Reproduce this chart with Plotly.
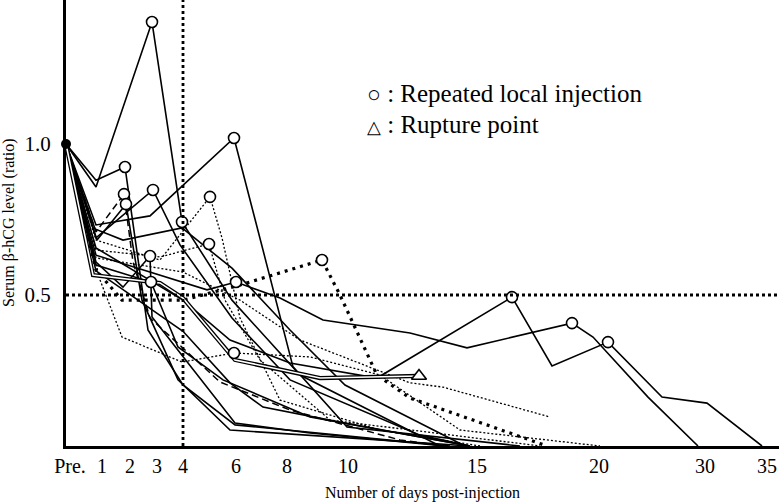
import plotly.graph_objects as go

# ---- axis (non-linear day scale: positions of the labelled days) ----
TICK_POS = [70, 102, 130, 157, 183, 236, 287, 348, 477, 599, 705, 767]
TICK_TEXT = ["Pre.", "1", "2", "3", "4", "6", "8", "10", "15", "20", "30", "35"]
Y_TICKS = [0.5, 1.0]
Y_TICK_TEXT = ["0.5", "1.0"]
REF_DAY4_POS = 183
REF_RATIO = 0.5

# ---- patient series (x = position on the day axis, y = hCG ratio) ----
S1_X = [66, 96, 152, 182, 232, 300, 440]
S1_Y = [1.0, 0.858, 1.404, 0.742, 0.483, 0.235, 0.0]
S1_INJ = [2, 3]

S2_X = [66, 96, 125, 148, 183, 235, 450]
S2_Y = [1.0, 0.88, 0.924, 0.384, 0.202, 0.07, 0.0]
S2_INJ = [2]

S3_X = [66, 96, 150, 234, 263, 293, 347, 520]
S3_Y = [1.0, 0.732, 0.762, 1.02, 0.649, 0.262, 0.063, 0.0]
S3_INJ = [3]

S4_X = [66, 96, 124, 133, 150, 220, 290, 400, 445]
S4_Y = [1.0, 0.709, 0.834, 0.609, 0.424, 0.212, 0.119, 0.02, 0.0]
S4_INJ = [2]

S5_X = [66, 97, 126, 142, 178, 230, 470]
S5_Y = [1.0, 0.682, 0.801, 0.483, 0.219, 0.053, 0.0]
S5_INJ = [2]

S6_X = [66, 96, 153, 180, 232, 290, 420, 470]
S6_Y = [1.0, 0.689, 0.848, 0.666, 0.424, 0.219, 0.036, 0.0]
S6_INJ = [2]

S7_X = [66, 95, 123, 182, 232, 290, 345, 465]
S7_Y = [1.0, 0.719, 0.682, 0.722, 0.589, 0.384, 0.202, 0.0]
S7_INJ = []

S8_X = [66, 96, 207, 236, 280, 323, 410, 467, 572, 593, 648, 698]
S8_Y = [1.0, 0.632, 0.517, 0.543, 0.49, 0.417, 0.374, 0.325, 0.407, 0.361, 0.162, 0.0]
S8_INJ = [3, 8]

S9_X = [66, 96, 183, 230, 290, 377, 512, 552, 608, 662, 707, 762]
S9_Y = [1.0, 0.656, 0.483, 0.351, 0.275, 0.225, 0.493, 0.265, 0.344, 0.162, 0.142, 0.0]
S9_INJ = [6, 8]

S10_X = [66, 93, 160, 183, 235, 320, 419]          # ruptured case
S10_Y = [1.0, 0.566, 0.54, 0.49, 0.285, 0.225, 0.232]

S11_X = [66, 96, 122, 183, 240, 322, 340, 377, 410, 547]
S11_Y = [1.0, 0.583, 0.483, 0.483, 0.533, 0.616, 0.50, 0.235, 0.159, 0.0]
S11_INJ = [5]

S12_X = [66, 96, 183, 240, 300, 410, 443, 550]
S12_Y = [1.0, 0.623, 0.576, 0.483, 0.351, 0.209, 0.195, 0.096]
S12_INJ = []

S13_X = [66, 100, 122, 182, 234, 310, 380, 460, 600]
S13_Y = [1.0, 0.55, 0.361, 0.278, 0.308, 0.295, 0.235, 0.053, 0.0]
S13_INJ = [4]

S14_X = [66, 96, 160, 210, 222, 240, 280, 380, 480]
S14_Y = [1.0, 0.682, 0.616, 0.825, 0.689, 0.424, 0.152, 0.053, 0.0]
S14_INJ = [3]

S15_X = [66, 96, 160, 209, 225, 260, 330, 540]
S15_Y = [1.0, 0.649, 0.626, 0.669, 0.483, 0.285, 0.086, 0.0]
S15_INJ = [3]

S16_X = [66, 96, 123, 150, 152, 235, 310, 445]
S16_Y = [1.0, 0.609, 0.526, 0.629, 0.427, 0.076, 0.043, 0.0]
S16_INJ = [3]

S17_X = [66, 96, 151, 178, 223, 310, 470]
S17_Y = [1.0, 0.599, 0.543, 0.328, 0.219, 0.096, 0.0]
S17_INJ = [2]

S18_X = [66, 96, 183, 230, 263, 340, 420, 470]
S18_Y = [1.0, 0.58, 0.38, 0.209, 0.129, 0.079, 0.03, 0.0]
S18_INJ = []

SOLID = dict(color="black", width=1.6)
DASHED = dict(color="black", width=1.5, dash="7px,4px")
THIN_DOT = dict(color="black", width=1.3, dash="2px,2px")
THICK_DOT = dict(color="black", width=3.2, dash="3px,5px")

SERIES = [
    (S1_X, S1_Y, S1_INJ, SOLID), (S2_X, S2_Y, S2_INJ, SOLID),
    (S3_X, S3_Y, S3_INJ, SOLID), (S4_X, S4_Y, S4_INJ, DASHED),
    (S5_X, S5_Y, S5_INJ, SOLID), (S6_X, S6_Y, S6_INJ, SOLID),
    (S7_X, S7_Y, S7_INJ, SOLID), (S8_X, S8_Y, S8_INJ, SOLID),
    (S9_X, S9_Y, S9_INJ, SOLID), (S11_X, S11_Y, S11_INJ, THICK_DOT),
    (S12_X, S12_Y, S12_INJ, THIN_DOT), (S13_X, S13_Y, S13_INJ, THIN_DOT),
    (S14_X, S14_Y, S14_INJ, THIN_DOT), (S15_X, S15_Y, S15_INJ, THIN_DOT),
    (S16_X, S16_Y, S16_INJ, SOLID), (S17_X, S17_Y, S17_INJ, SOLID),
    (S18_X, S18_Y, S18_INJ, SOLID),
]

FONT = "Liberation Serif"

fig = go.Figure()

for xs, ys, inj, style in SERIES:
    fig.add_trace(go.Scatter(x=xs, y=ys, mode="lines", line=style,
                             hoverinfo="skip"))

# double-line ruptured case
fig.add_trace(go.Scatter(x=S10_X, y=S10_Y, mode="lines",
                         line=dict(color="black", width=4.2), hoverinfo="skip"))
fig.add_trace(go.Scatter(x=S10_X, y=S10_Y, mode="lines",
                         line=dict(color="white", width=1.6), hoverinfo="skip"))

# injection circles
for xs, ys, inj, style in SERIES:
    if inj:
        fig.add_trace(go.Scatter(
            x=[xs[i] for i in inj], y=[ys[i] for i in inj], mode="markers",
            marker=dict(symbol="circle", size=11, color="white",
                        line=dict(color="black", width=1.6)),
            hoverinfo="skip"))

# rupture triangle
fig.add_trace(go.Scatter(
    x=[S10_X[-1]], y=[S10_Y[-1]], mode="markers",
    marker=dict(symbol="triangle-up", size=13, color="white",
                line=dict(color="black", width=1.6)), hoverinfo="skip"))

# starting point
fig.add_trace(go.Scatter(
    x=[S1_X[0]], y=[S1_Y[0]], mode="markers", cliponaxis=False,
    marker=dict(symbol="circle", size=10, color="black"), hoverinfo="skip"))

fig.add_shape(type="line", xref="x", yref="paper", x0=REF_DAY4_POS, x1=REF_DAY4_POS,
              y0=0, y1=1, line=dict(color="black", width=2.8, dash="3px,3px"))
fig.add_shape(type="line", xref="paper", yref="y", x0=0, x1=1,
              y0=REF_RATIO, y1=REF_RATIO,
              line=dict(color="black", width=2.8, dash="3px,3px"))

fig.add_annotation(xref="paper", yref="paper", x=0.42, y=0.79, xanchor="left",
                   yanchor="middle", showarrow=False,
                   text="<span style='font-size:23px'>○</span> : Repeated local injection",
                   font=dict(family=FONT, size=25, color="black"))
fig.add_annotation(xref="paper", yref="paper", x=0.42, y=0.72, xanchor="left",
                   yanchor="middle", showarrow=False,
                   text="<span style='font-size:18px'>△</span> : Rupture point",
                   font=dict(family=FONT, size=25, color="black"))

# axis titles
fig.add_annotation(xref="paper", yref="paper", x=0.5, y=0, xanchor="center",
                   yanchor="middle", yshift=-47, showarrow=False,
                   text="Number of days post-injection",
                   font=dict(family=FONT, size=16, color="black"))
fig.add_annotation(xref="paper", yref="paper", x=0, y=0.5, xanchor="center",
                   yanchor="middle", xshift=-57, textangle=-90, showarrow=False,
                   text="Serum β-hCG level (ratio)",
                   font=dict(family=FONT, size=16, color="black"))

fig.update_layout(
    width=779, height=504,
    margin=dict(l=66, r=0, t=0, b=58),
    paper_bgcolor="white", plot_bgcolor="white",
    showlegend=False,
    font=dict(family=FONT, color="black"),
    xaxis=dict(range=[66, 779], tickmode="array", tickvals=TICK_POS, ticktext=TICK_TEXT,
               tickfont=dict(family=FONT, size=20), ticks="", showgrid=False,
               zeroline=False, showline=True, linecolor="black", linewidth=3,
               ticklabelstandoff=0, automargin=False),
    yaxis=dict(range=[0, 1.477], tickmode="array", tickvals=Y_TICKS, ticktext=Y_TICK_TEXT,
               tickfont=dict(family=FONT, size=21), ticks="", showgrid=False,
               zeroline=False, showline=True, linecolor="black", linewidth=3,
               ticklabelstandoff=8, automargin=False),
)

fig.write_html("out.html", config={"displayModeBar": False},
               post_script="document.body.style.margin='0';document.body.style.overflow='hidden';")
